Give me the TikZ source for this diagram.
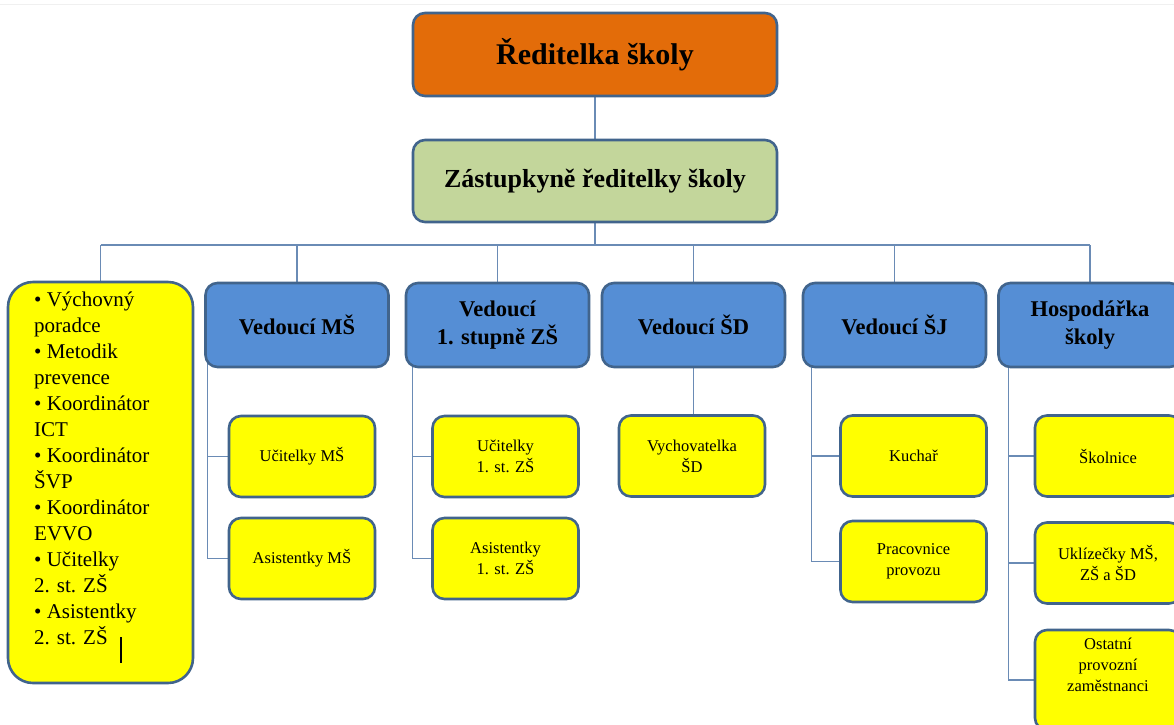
\documentclass[tikz,border=0pt]{standalone}
\usepackage{fontspec}
\setmainfont{Liberation Serif}
\usetikzlibrary{backgrounds}

\definecolor{boxline}{HTML}{41648C}
\definecolor{linkline}{HTML}{6A8BB5}
\definecolor{headfill}{HTML}{E36C09}
\definecolor{depfill}{HTML}{C3D69B}
\definecolor{leadfill}{HTML}{558ED5}
\definecolor{stafffill}{HTML}{FFFF00}

\newcommand{\leadwidth}{183pt}
\newcommand{\staffwidth}{146pt}
\newcommand{\busy}{245}

\tikzset{
  box/.style={draw=boxline, line width=2.6pt, rounded corners=12pt, align=center, inner sep=2pt},
  headbox/.style={box, fill=headfill, minimum width=364pt, minimum height=83pt,
    font=\bfseries\fontsize{30}{36}\selectfont},
  depbox/.style={box, fill=depfill, minimum width=364pt, minimum height=82pt,
    font=\bfseries\fontsize{26}{31}\selectfont},
  leadbox/.style={box, fill=leadfill, minimum width=\leadwidth, minimum height=84pt,
    font=\bfseries\fontsize{22.5}{28}\selectfont},
  staffbox/.style={box, fill=stafffill, minimum width=\staffwidth, minimum height=81pt,
    font=\fontsize{16.5}{21}\selectfont},
  link/.style={draw=linkline, line width=1.2pt}
}

\begin{document}
\begin{tikzpicture}[x=1pt, y=-1pt]
\useasboundingbox (0,0) rectangle (1174,724);
\draw[gray!12, line width=1pt] (0,4) -- (1174,4);

\node[headbox] (head) at (595,54.5) {Ředitelka školy};
\node[depbox] (dep) at (595,181) {Zástupkyně ředitelky školy};

\node[box, fill=stafffill, rounded corners=25pt, minimum width=185pt, minimum height=401pt] (team) at (100.5,482.5) {};
\node[anchor=north west, inner sep=0pt, align=left, font=\fontsize{21}{26}\selectfont] (teamtext) at (34,292)
  {• Výchovný\\poradce\\• Metodik\\prevence\\• Koordinátor\\ICT\\• Koordinátor\\ŠVP\\• Koordinátor\\EVVO\\• Učitelky\\2. st. ZŠ\\• Asistentky\\2. st. ZŠ};
\draw[line width=2.5pt] (121,637) -- (121,663);

\node[leadbox] (ms) at (297,325) {Vedoucí MŠ};
\node[leadbox] (zs) at (497.5,325) {Vedoucí\\1. stupně ZŠ};
\node[leadbox] (sd) at (693.5,325) {Vedoucí ŠD};
\node[leadbox] (sj) at (894.5,325) {Vedoucí ŠJ};
\node[leadbox] (hosp) at (1090,325) {Hospodářka\\školy};

\node[staffbox] (ms1) at (302,456.5) {Učitelky MŠ};
\node[staffbox] (ms2) at (302,558.5) {Asistentky MŠ};
\node[staffbox] (zs1) at (505.5,456.5) {Učitelky\\1. st. ZŠ};
\node[staffbox] (zs2) at (505.5,558.5) {Asistentky\\1. st. ZŠ};
\node[staffbox] (sd1) at (692,456) {Vychovatelka\\ŠD};
\node[staffbox] (sj1) at (913.5,456) {Kuchař};
\node[staffbox] (sj2) at (913.5,561.5) {Pracovnice\\provozu};
\node[staffbox] (hosp1) at (1108,456) {Školnice};
\node[staffbox] (hosp2) at (1108,563) {Uklízečky MŠ,\\ZŠ a ŠD};
\node[staffbox, minimum height=100pt, text depth=30pt] (hosp3) at (1108,680) {Ostatní\\provozní\\zaměstnanci};

\begin{scope}[on background layer]
\coordinate (bus) at (0,\busy);
\draw[link] (head) -- (dep);
\draw[link] (dep) -- (dep |- bus);
\draw[link] (team.north |- bus) -- (hosp.north |- bus);
\draw[link] (team) -- (team |- bus);
\draw[link] (ms) -- (ms |- bus);
\draw[link] (zs) -- (zs |- bus);
\draw[link] (sd) -- (sd |- bus);
\draw[link] (sj) -- (sj |- bus);
\draw[link] (hosp) -- (hosp |- bus);

\draw[link] ([xshift=3.5pt]ms.west) |- (ms1.west);
\draw[link] ([xshift=3.5pt]ms.west) |- (ms2.west);
\draw[link] ([xshift=8pt]zs.west) |- (zs1.west);
\draw[link] ([xshift=8pt]zs.west) |- (zs2.west);
\draw[link] (sd) -- (sd |- sd1.north);
\draw[link] ([xshift=10pt]sj.west) |- (sj1.west);
\draw[link] ([xshift=10pt]sj.west) |- (sj2.west);
\draw[link] ([xshift=11pt]hosp.west) |- (hosp1.west);
\draw[link] ([xshift=11pt]hosp.west) |- (hosp2.west);
\draw[link] ([xshift=11pt]hosp.west) |- (hosp3.west);
\end{scope}
\end{tikzpicture}
\end{document}
